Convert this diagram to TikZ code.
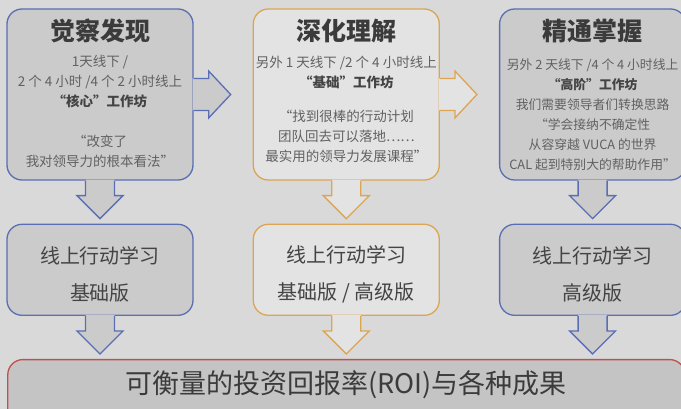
\documentclass[tikz,border=0pt]{standalone}
\usepackage{fontspec}
\setmainfont{Noto Sans CJK SC}
\usetikzlibrary{calc,positioning}
\definecolor{bgcol}{HTML}{D9D9D9}
\definecolor{grayfill}{HTML}{CBCBCB}
\definecolor{lightfill}{HTML}{E3E3E3}
\definecolor{roifill}{HTML}{C4C4C4}
\definecolor{blueline}{HTML}{5A6EB4}
\definecolor{orangeline}{HTML}{DCA553}
\definecolor{redline}{HTML}{C0504D}
\definecolor{titlecol}{HTML}{3B3B3B}
\definecolor{bodycol}{HTML}{616161}
\definecolor{darkcol}{HTML}{444444}
\tikzset{%
   calloutline/.style={
      line width=1.3pt,
      line join=miter
   },
   box/.style={
      draw,
      calloutline,
      rounded corners=15pt,
      inner sep=0pt,
      minimum width=186pt
   },
   bluebox/.style={
      box,
      draw=blueline,
      fill=grayfill
   },
   orangebox/.style={
      box,
      draw=orangeline,
      fill=lightfill
   },
   topbox/.style={
      minimum height=171pt
   },
   alabox/.style={
      minimum height=91pt
   },
   titletext/.style={
      inner sep=0pt,
      text=titlecol,
      font=\bfseries\fontsize{25}{25}\selectfont
   },
   bodytext/.style={
      inner sep=0pt,
      anchor=north,
      align=center,
      text=bodycol,
      font=\fontsize{13.5}{20}\selectfont
   },
   alatext/.style={
      inner sep=0pt,
      align=center,
      text=darkcol,
      font=\fontsize{20}{37}\selectfont
   },
}
\newcommand{\hl}[1]{\textcolor{darkcol}{\bfseries #1}}
% box with an arrow out of its right side
\newcommand{\rightcallout}[3]{%
   \fill[#2] ($(#1.east)+(-1,-16)$) -- ++(16,0) -- ++(0,-7.5) -- ++(22,23.5)
      -- ++(-22,23.5) -- ++(0,-7.5) -- ++(-16,0) -- cycle;
   \draw[#3, calloutline] ($(#1.east)+(0,-16)$) -- ++(15,0) -- ++(0,-7.5)
      -- ++(22,23.5) -- ++(-22,23.5) -- ++(0,-7.5) -- ++(-15,0);
}
% box with an arrow out of its bottom side
\newcommand{\downcallout}[3]{%
   \fill[#2] ($(#1.south)+(-14.5,-1)$) -- ++(0,16) -- ++(-8.5,0) -- ++(23,23)
      -- ++(23,-23) -- ++(-8.5,0) -- ++(0,-16) -- cycle;
   \draw[#3, calloutline] ($(#1.south)+(-14.5,0)$) -- ++(0,15) -- ++(-8.5,0)
      -- ++(23,23) -- ++(23,-23) -- ++(-8.5,0) -- ++(0,-15);
}
\begin{document}
\begin{tikzpicture}[x=1pt, y=-1pt]
   \useasboundingbox (0,0) rectangle (681,409);
   \clip (0,0) rectangle (681,409);
   \fill[bgcol] (0,0) rectangle (681,409);

   % top row
   \node[bluebox, topbox] (aware) at (100,94.5) {};
   \node[orangebox, topbox, right=59pt of aware] (deepen) {};
   \node[bluebox, topbox, right=59pt of deepen] (master) {};

   % action learning row
   \node[bluebox, alabox, below=43pt of aware] (ala1) {};
   \node[orangebox, alabox, below=43pt of deepen] (ala2) {};
   \node[bluebox, alabox, below=43pt of master] (ala3) {};

   % results
   \node[box, draw=redline, fill=roifill, minimum width=677pt, minimum height=90pt,
      below=43pt of ala2] (roi) {};

   \rightcallout{aware}{grayfill}{blueline}
   \rightcallout{deepen}{lightfill}{orangeline}
   \downcallout{aware}{grayfill}{blueline}
   \downcallout{deepen}{lightfill}{orangeline}
   \downcallout{master}{grayfill}{blueline}
   \downcallout{ala1}{grayfill}{blueline}
   \downcallout{ala2}{lightfill}{orangeline}
   \downcallout{ala3}{grayfill}{blueline}

   \node[titletext] (awaretitle) at ($(aware.north)+(0,23)$) {觉察发现};
   \node[bodytext] (awarebody) at ($(aware.north)+(0,47)$)
      {1天线下 /\\2 个 4 小时 /4 个 2 小时线上\\\hl{“核心”工作坊}\\[20pt]
       “改变了\\我对领导力的根本看法”};

   \node[titletext] (deepentitle) at ($(deepen.north)+(0,23)$) {深化理解};
   \node[bodytext] (deepenbody) at ($(deepen.north)+(0,48)$)
      {另外 1 天线下 /2 个 4 小时线上\\\hl{“基础”工作坊}\\[14pt]
       “找到很棒的行动计划\\团队回去可以落地……\\最实用的领导力发展课程”};

   \node[titletext] (mastertitle) at ($(master.north)+(0,23)$) {精通掌握};
   \node[bodytext, font=\fontsize{12.8}{20}\selectfont] (masterbody) at ($(master.north)+(0,50)$)
      {另外 2 天线下 /4 个 4 小时线上\\\hl{“高阶”工作坊}\\我们需要领导者们转换思路\\
       “学会接纳不确定性\\从容穿越 VUCA 的世界\\CAL 起到特别大的帮助作用”};

   \node[alatext] (ala1text) at ($(ala1.center)+(0,5)$) {线上行动学习\\基础版};
   \node[alatext] (ala2text) at ($(ala2.center)+(0,5)$) {线上行动学习\\基础版 / 高级版};
   \node[alatext] (ala3text) at ($(ala3.center)+(0,5)$) {线上行动学习\\高级版};

   \node[inner sep=0pt, text=titlecol, font=\fontsize{27}{27}\selectfont]
      (roitext) at ($(roi.north)+(0,26)$) {可衡量的投资回报率(ROI)与各种成果};
\end{tikzpicture}
\end{document}
